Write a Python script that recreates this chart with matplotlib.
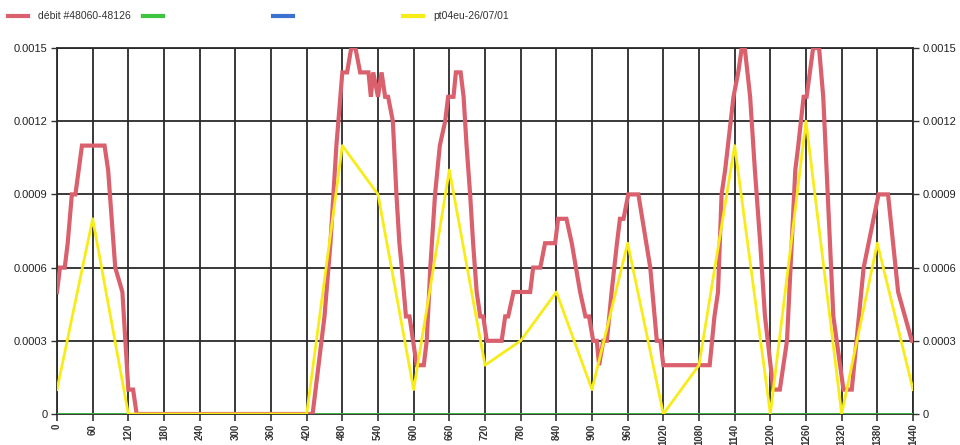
import matplotlib
matplotlib.use("Agg")
import matplotlib.pyplot as plt
from matplotlib.lines import Line2D

plt.rcParams['font.family'] = ['Liberation Sans', 'DejaVu Sans']

# ---- data ----
x_ticks = list(range(0, 1441, 60))
y_ticks = [0, 0.0003, 0.0006, 0.0009, 0.0012, 0.0015]
y_tick_labels = ["0", "0.0003", "0.0006", "0.0009", "0.0012", "0.0015"]

debit_x = [0, 5, 13, 18, 25, 31, 42, 80, 86, 98, 110, 120, 128, 134,
           430, 440, 450, 460, 470, 480, 488, 495, 502, 510, 524, 528, 532, 540, 546, 552, 557,
           565, 571, 576, 580, 587, 593, 605, 617,
           622, 628, 636, 644, 653, 658, 667, 671, 679, 684, 689, 695, 700, 706, 712, 717,
           723, 748, 754, 759, 768, 796, 801, 813, 821, 838, 843, 857, 866, 880, 889, 895,
           902, 908, 912, 919, 925, 933, 942, 947, 953, 961, 978, 998, 1009, 1015,
           1020, 1098, 1106, 1112, 1118, 1124, 1138, 1146, 1152, 1157, 1166, 1174, 1183, 1191,
           1205, 1216, 1228, 1242, 1247, 1256, 1261, 1272, 1282, 1289, 1306, 1323, 1337,
           1357, 1382, 1398, 1415, 1438, 1440]
debit_y = [0.0005, 0.0006, 0.0006, 0.0007, 0.0009, 0.0009, 0.0011, 0.0011, 0.0010, 0.0006, 0.0005, 0.0001, 0.0001, 0.0,
           0.0, 0.0002, 0.0004, 0.0007, 0.0011, 0.0014, 0.0014, 0.0015, 0.0015, 0.0014, 0.0014, 0.0013, 0.0014, 0.0013, 0.0014, 0.0013, 0.0013,
           0.0012, 0.0009, 0.0007, 0.0006, 0.0004, 0.0004, 0.0002, 0.0002,
           0.0003, 0.0006, 0.0009, 0.0011, 0.0012, 0.0013, 0.0013, 0.0014, 0.0014, 0.0013, 0.0011, 0.0009, 0.0007, 0.0005, 0.0004, 0.0004,
           0.0003, 0.0003, 0.0004, 0.0004, 0.0005, 0.0005, 0.0006, 0.0006, 0.0007, 0.0007, 0.0008, 0.0008, 0.0007, 0.0005, 0.0004, 0.0004,
           0.0003, 0.0003, 0.0002, 0.0003, 0.0003, 0.0005, 0.0007, 0.0008, 0.0008, 0.0009, 0.0009, 0.0006, 0.0003, 0.0003,
           0.0002, 0.0002, 0.0004, 0.0005, 0.0009, 0.0010, 0.0013, 0.0014, 0.0015, 0.0015, 0.0013, 0.0010, 0.0007, 0.0004,
           0.0001, 0.0001, 0.0003, 0.0010, 0.0011, 0.0013, 0.0013, 0.0015, 0.0015, 0.0013, 0.0004, 0.0001, 0.0001,
           0.0006, 0.0009, 0.0009, 0.0005, 0.0003, 0.0003]

pt04_x = list(range(0, 1441, 60))
pt04_y = [0.0001, 0.0008, 0.0, 0.0, 0.0, 0.0, 0.0, 0.0, 0.0011, 0.0009, 0.0001, 0.0010, 0.0002,
          0.0003, 0.0005, 0.0001, 0.0007, 0.0, 0.0002, 0.0011, 0.0, 0.0012, 0.0, 0.0007, 0.0001]

zero_x = [0, 1440]
zero_y = [0, 0]

labels = ["débit #48060-48126", "", "", "pt04eu-26/07/01"]
colors = ["#d9606c", "#3fc43f", "#3b6fd0", "#f8ec18"]

# ---- figure ----
fig = plt.figure(figsize=(9.6, 4.45), dpi=100)
ax = fig.add_axes([57/960, 31/445, 856/960, 366/445])

ax.plot(zero_x, zero_y, color=colors[1], lw=1.3, zorder=3)
ax.plot(debit_x, debit_y, color=colors[0], lw=3.0, zorder=4, solid_joinstyle='miter')
ax.plot(pt04_x, pt04_y, color=colors[3], lw=2.0, zorder=5)

ax.set_xlim(0, 1440)
ax.set_ylim(0, 0.0015)
ax.set_xticks(x_ticks)
ax.set_xticklabels([str(v) for v in x_ticks], rotation=90, fontsize=7, fontweight='bold', color='#333333')
ax.set_yticks(y_ticks)
ax.set_yticklabels(y_tick_labels, fontsize=8, color='#222222')
ax.tick_params(axis='y', which='both', left=True, right=True, labelleft=True, labelright=True,
               length=4, width=1.0, color='#333333', pad=3)
ax.tick_params(axis='x', length=5, width=1.2, color='#333333', pad=2)
ax.grid(True, color='#2a2a2a', lw=1.3)
for s in ax.spines.values():
    s.set_color('#2a2a2a')
    s.set_linewidth(1.3)
ax.set_axisbelow(True)

# legend row
leg_x = [8, 143, 273, 403]
for lx, lab, c in zip(leg_x, labels, colors):
    fig.add_artist(Line2D([lx/960, (lx+20)/960], [1 - 16/445, 1 - 16/445], color=c, lw=3))
    if lab:
        fig.text((lx+30)/960, 1 - 16/445, lab, fontsize=7.5, va='center', ha='left', color='#333333')

fig.savefig("out.png", dpi=100)
